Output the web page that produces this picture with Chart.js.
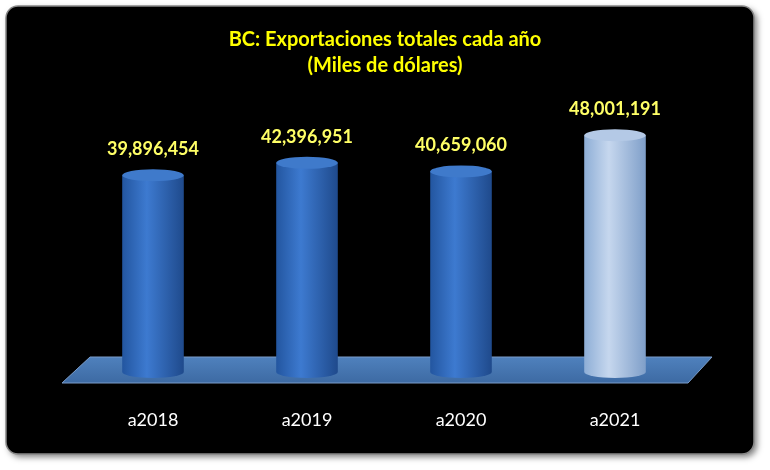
<!DOCTYPE html>
<html><head><meta charset="utf-8">
<script src="https://cdn.jsdelivr.net/npm/chart.js@4"></script>
<style>html,body{margin:0;padding:0;background:#fff}#w{width:770px;height:470px}</style>
</head><body><div id="w"><canvas id="c"></canvas></div>
<script>
const categories = ["a2018","a2019","a2020","a2021"];
const values = [39896454, 42396951, 40659060, 48001191];
const titleLines = ["BC: Exportaciones totales cada año","(Miles de dólares)"];
const fmt = v => v.toLocaleString('en-US');

const deco = {
  id:'deco',
  beforeDraw(ch){
    const c=ch.ctx; c.save();
    c.fillStyle='#fff'; c.fillRect(0,0,770,470);
    c.shadowColor='rgba(0,0,0,0.5)'; c.shadowBlur=6; c.shadowOffsetX=3; c.shadowOffsetY=3;
    c.beginPath(); c.roundRect(6,6,748,448,12); c.fillStyle='#000'; c.fill();
    c.shadowColor='transparent';
    c.strokeStyle='#888'; c.lineWidth=1.5; c.stroke();
    c.fillStyle='#ffff00'; c.font='bold 20px Lato'; c.textAlign='center'; c.textBaseline='middle';
    c.fillText(titleLines[0],385,40); c.fillText(titleLines[1],385,66);
    c.beginPath(); c.moveTo(90,357); c.lineTo(712,357); c.lineTo(688,383); c.lineTo(62,383); c.closePath();
    const g=c.createLinearGradient(0,357,0,383); g.addColorStop(0,'#4f81bd'); g.addColorStop(1,'#3d6aa3');
    c.fillStyle=g; c.fill(); c.strokeStyle='#7a9cc9'; c.lineWidth=1; c.stroke();
    c.restore();
  },
  afterDatasetsDraw(ch){
    const c=ch.ctx; const meta=ch.getDatasetMeta(0);
    meta.data.forEach((b,i)=>{
      const x=b.x, w=b.width, top=b.y, base=b.base, rx=w/2, ry=6;
      const light=i===3;
      const g=c.createLinearGradient(x-rx,0,x+rx,0);
      if(light){g.addColorStop(0,'#8eaed6');g.addColorStop(0.4,'#c6d7ee');g.addColorStop(1,'#7f9fc9');}
      else{g.addColorStop(0,'#2356a0');g.addColorStop(0.4,'#3d7ad0');g.addColorStop(1,'#1f4a8c');}
      c.save();
      c.beginPath(); c.moveTo(x-rx,top); c.lineTo(x-rx,base);
      c.ellipse(x,base,rx,ry,0,Math.PI,0,true); c.lineTo(x+rx,top); c.closePath();
      c.fillStyle=g; c.fill();
      c.beginPath(); c.ellipse(x,top,rx,ry,0,0,Math.PI*2);
      c.fillStyle=light?'#b4c9e6':'#3f7acb'; c.fill();
      c.fillStyle='#ffff66'; c.font='bold 18px Lato'; c.textAlign='center'; c.textBaseline='middle';
      c.fillText(fmt(values[i]),x,top-26);
      c.fillStyle='#fff'; c.font='18px Lato';
      c.fillText(categories[i],x,420);
      c.restore();
    });
  }
};

new Chart(document.getElementById('c'),{
  type:'bar',
  data:{labels:categories,datasets:[{data:values,backgroundColor:'rgba(0,0,0,0)',barPercentage:0.4,categoryPercentage:1}]},
  options:{responsive:true,maintainAspectRatio:false,animation:false,
    layout:{padding:{top:76,bottom:98,left:76,right:78}},
    plugins:{legend:{display:false},tooltip:{enabled:false}},
    scales:{x:{display:false},y:{display:false,min:0,max:60000000}}},
  plugins:[deco]
});
</script></body></html>
